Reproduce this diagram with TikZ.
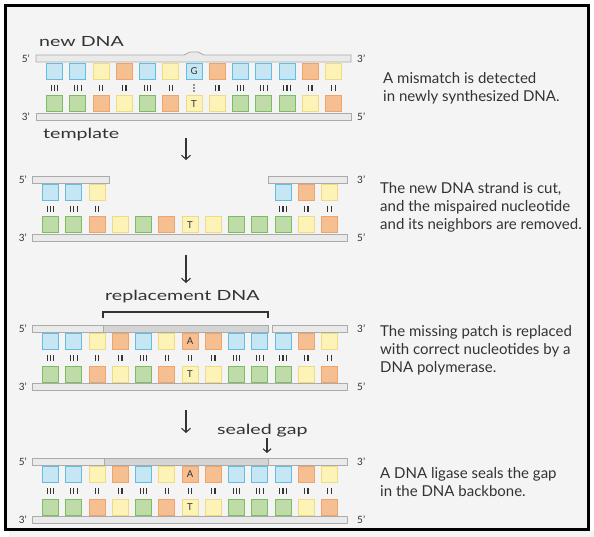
\documentclass[tikz,border=0pt]{standalone}
\usepackage{fontspec}
\setmainfont{Lato}
\newfontfamily\handfont[FakeStretch=1.4]{Lato}
\usetikzlibrary{arrows.meta}
\definecolor{bgc}{HTML}{F4F4F4}
\definecolor{txt}{HTML}{333333}
\definecolor{bluL}{HTML}{C6E6F3}
\definecolor{bluD}{HTML}{62BDE0}
\definecolor{yelL}{HTML}{FDF3B6}
\definecolor{yelD}{HTML}{EEDB86}
\definecolor{orgL}{HTML}{F6BF92}
\definecolor{orgD}{HTML}{EDA56E}
\definecolor{grnL}{HTML}{BFDCA8}
\definecolor{grnD}{HTML}{7DBC62}
\definecolor{bbL}{HTML}{EAEAEA}
\definecolor{bbM}{HTML}{D4D4D4}
\definecolor{bbD}{HTML}{ABABAB}

\begin{document}
\begin{tikzpicture}[x=1pt,y=-1pt,
  nt/.style={draw,line width=1pt,minimum size=16pt,inner sep=0pt},
  cblue/.style={nt,draw=bluD,fill=bluL},
  cyel/.style={nt,draw=yelD,fill=yelL},
  corg/.style={nt,draw=orgD,fill=orgL},
  cgrn/.style={nt,draw=grnD,fill=grnL},
  lett/.style={font=\fontsize{9.5}{10}\selectfont,text=txt,inner sep=0pt},
  bb/.style={draw=bbD,fill=bbL,line width=0.8pt},
  bbnew/.style={bb,fill=bbM},
  bond/.style={draw=txt,line width=1.1pt},
  prime/.style={font=\fontsize{10}{10}\selectfont,text=txt,inner sep=0pt},
  hand/.style={font=\handfont\fontsize{14}{14}\selectfont,text=txt,inner sep=0pt,anchor=base west},
  desc/.style={anchor=north west,align=left,inner sep=0pt,font=\fontsize{15}{18}\selectfont,text=txt},
  down/.style={-{Straight Barb[length=4pt,width=9pt]},line width=1.1pt,draw=txt}]
\useasboundingbox (0,0) rectangle (594,537);
\fill[white] (0,0) rectangle (594,537);
\fill[bgc] (9,531) rectangle (594,537);
\draw[line width=3pt,fill=bgc] (5.5,5.5) rectangle (588.5,529.5);

% step 1: mismatch
\node[hand] (newdna) at (39,47) {new DNA};
\draw[bb] (36,55) -- (184,55) .. controls (187,55) and (187,52) .. (190,52) -- (198,52)
  .. controls (201,52) and (201,55) .. (204,55) -- (351,55) -- (351,62) -- (36,62) -- cycle;
\draw[bb] (36,113.5) rectangle (351,120);
\foreach \s [count=\i] in {cblue,cblue,cyel,corg,cblue,cyel,cblue,corg,cblue,cblue,cblue,corg,cyel}
  \node[\s] (p1t\i) at ({54.5+23.25*(\i-1)},71.5) {};
\foreach \s [count=\i] in {cgrn,cgrn,corg,cyel,cgrn,corg,cyel,cyel,cgrn,cgrn,cgrn,cyel,corg}
  \node[\s] (p1b\i) at ({54.5+23.25*(\i-1)},104) {};
\node[lett] (p1g) at (p1t7) {G};
\node[lett] (p1t) at (p1b7) {T};
\foreach \i/\n in {1/3,2/3,3/2,4/2,5/3,6/2,8/2,9/3,10/3,11/3,12/2,13/2}
  \foreach \k in {1,...,\n}
    \draw[bond] ({54.5+23.25*(\i-1)+(\k-(\n+1)/2)*3.4},85) -- ++(0,6);
\foreach \d in {85,88,91}
  \fill[txt] (194,\d) circle (0.8);
\node[prime,anchor=east] (p1l5) at (30,59) {5'};
\node[prime,anchor=west] (p1r3) at (357,59) {3'};
\node[prime,anchor=east] (p1l3) at (30,117) {3'};
\node[prime,anchor=west] (p1r5) at (357,117) {5'};
\node[hand] (templ) at (43,139) {template};
\node[desc] (d1) at (383,72) {A mismatch is detected\\in newly synthesized DNA.};

\coordinate (a1s) at (186,138);
\coordinate (a1e) at (186,160);
\draw[down] (a1s) -- (a1e);

% step 2: cut and removal
\draw[bb] (32,176) rectangle (109,183);
\draw[bb] (268,176) rectangle (347,183);
\draw[bb] (32,234) rectangle (347,241);
\foreach \i/\s in {1/cblue,2/cblue,3/cyel,11/cblue,12/corg,13/cyel}
  \node[\s] (p2t\i) at ({50.5+23.25*(\i-1)},192.5) {};
\foreach \s [count=\i] in {cgrn,cgrn,corg,cyel,cgrn,corg,cyel,cyel,cgrn,cgrn,cgrn,cyel,corg}
  \node[\s] (p2b\i) at ({50.5+23.25*(\i-1)},225) {};
\node[lett] (p2t) at (p2b7) {T};
\foreach \i/\n in {1/3,2/3,3/2,11/3,12/2,13/2}
  \foreach \k in {1,...,\n}
    \draw[bond] ({50.5+23.25*(\i-1)+(\k-(\n+1)/2)*3.4},206) -- ++(0,6);
\node[prime,anchor=east] (p2l5) at (27,180) {5'};
\node[prime,anchor=west] (p2r3) at (357,180) {3'};
\node[prime,anchor=east] (p2l3) at (27,238) {3'};
\node[prime,anchor=west] (p2r5) at (357,238) {5'};
\node[desc] (d2) at (380,182) {The new DNA strand is cut,\\and the mispaired nucleotide\\and its neighbors are removed.};

\coordinate (a2s) at (186,255);
\coordinate (a2e) at (186,283);
\draw[down] (a2s) -- (a2e);

% step 3: replacement
\node[hand] (repl) at (105,300) {replacement DNA};
\draw[line width=1.3pt,txt] (103,318) -- (103,312) -- (268,312) -- (268,318);
\draw[bb] (32,325) rectangle (103,332);
\draw[bbnew] (103,325) rectangle (268,332);
\draw[bb] (272,325) rectangle (347,332);
\draw[bb] (32,383) rectangle (347,390);
\foreach \s [count=\i] in {cblue,cblue,cyel,corg,cblue,cyel,corg,corg,cblue,cblue,cblue,corg,cyel}
  \node[\s] (p3t\i) at ({50.5+23.25*(\i-1)},341.5) {};
\foreach \s [count=\i] in {cgrn,cgrn,corg,cyel,cgrn,corg,cyel,cyel,cgrn,cgrn,cgrn,cyel,corg}
  \node[\s] (p3b\i) at ({50.5+23.25*(\i-1)},374) {};
\node[lett] (p3a) at (p3t7) {A};
\node[lett] (p3t) at (p3b7) {T};
\foreach \i/\n in {1/3,2/3,3/2,4/2,5/3,6/2,7/2,8/2,9/3,10/3,11/3,12/2,13/2}
  \foreach \k in {1,...,\n}
    \draw[bond] ({50.5+23.25*(\i-1)+(\k-(\n+1)/2)*3.4},355) -- ++(0,6);
\node[prime,anchor=east] (p3l5) at (27,329) {5'};
\node[prime,anchor=west] (p3r3) at (357,329) {3'};
\node[prime,anchor=east] (p3l3) at (27,387) {3'};
\node[prime,anchor=west] (p3r5) at (357,387) {5'};
\node[desc] (d3) at (380,325) {The missing patch is replaced\\with correct nucleotides by a\\DNA polymerase.};

\coordinate (a3s) at (186,410);
\coordinate (a3e) at (186,433);
\draw[down] (a3s) -- (a3e);

% step 4: ligation
\node[hand] (sealed) at (217,434) {sealed gap};
\coordinate (gs) at (267,438);
\coordinate (ge) at (267,453);
\draw[down,-{Straight Barb[length=3.5pt,width=8pt]}] (gs) -- (ge);
\draw[bb] (32,458) rectangle (104,465);
\draw[bbnew] (104,458) rectangle (268,465);
\draw[bb] (268,458) rectangle (347,465);
\draw[bb] (32,516) rectangle (347,523);
\foreach \s [count=\i] in {cblue,cblue,cyel,corg,cblue,cyel,corg,corg,cblue,cblue,cblue,corg,cyel}
  \node[\s] (p4t\i) at ({50.5+23.25*(\i-1)},474.5) {};
\foreach \s [count=\i] in {cgrn,cgrn,corg,cyel,cgrn,corg,cyel,cyel,cgrn,cgrn,cgrn,cyel,corg}
  \node[\s] (p4b\i) at ({50.5+23.25*(\i-1)},507) {};
\node[lett] (p4a) at (p4t7) {A};
\node[lett] (p4t) at (p4b7) {T};
\foreach \i/\n in {1/3,2/3,3/2,4/2,5/3,6/2,7/2,8/2,9/3,10/3,11/3,12/2,13/2}
  \foreach \k in {1,...,\n}
    \draw[bond] ({50.5+23.25*(\i-1)+(\k-(\n+1)/2)*3.4},488) -- ++(0,6);
\node[prime,anchor=east] (p4l5) at (27,462) {5'};
\node[prime,anchor=west] (p4r3) at (357,462) {3'};
\node[prime,anchor=east] (p4l3) at (27,520) {3'};
\node[prime,anchor=west] (p4r5) at (357,520) {5'};
\node[desc] (d4) at (380,467) {A DNA ligase seals the gap\\in the DNA backbone.};
\end{tikzpicture}
\end{document}
